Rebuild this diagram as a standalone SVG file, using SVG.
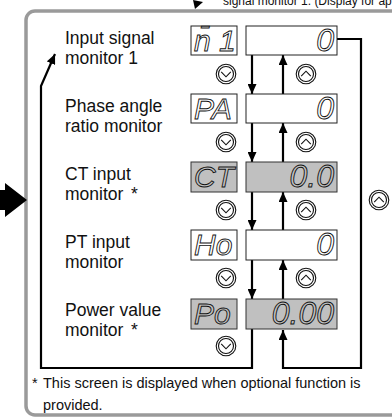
<svg xmlns="http://www.w3.org/2000/svg" width="392" height="417" viewBox="0 0 392 417">
<defs>
<style>
.lbl{font-family:"Liberation Sans",Arial,sans-serif;font-size:17.5px;fill:#111}
.note{font-family:"Liberation Sans",Arial,sans-serif;font-size:14.5px;fill:#111}
.seg{font-family:"Liberation Sans",Arial,sans-serif;font-style:italic;font-size:30px;fill:none;stroke:#111;stroke-width:0.9}
.val{font-family:"Liberation Sans",Arial,sans-serif;font-style:italic;font-size:32px;fill:none;stroke:#111;stroke-width:0.9;text-anchor:end}
.box{fill:#fff;stroke:#222;stroke-width:1}
.gbox{fill:#c0c0c0;stroke:#333;stroke-width:1}
.ln{fill:none;stroke:#000;stroke-width:2.2}
</style>
<marker id="ah" markerUnits="userSpaceOnUse" markerWidth="10" markerHeight="9" refX="10" refY="4.5" orient="auto">
<path d="M0,0 L10,4.5 L0,9 z" fill="#000"/>
</marker>
<g id="dn" fill="#fff" stroke="#111" stroke-width="1.1"><circle r="9.8"/><circle r="7.5"/><polyline fill="none" points="-4.8,-2.2 0,2.8 4.8,-2.2"/></g>
<g id="up" fill="#fff" stroke="#111" stroke-width="1.1"><circle r="9.8"/><circle r="7.5"/><polyline fill="none" points="-4.8,2.2 0,-2.8 4.8,2.2"/></g>
</defs>

<text x="223" y="5" font-family="Liberation Sans,Arial,sans-serif" font-size="12" fill="#111">signal monitor 1. (Display for ap</text>
<polygon points="193,0 203,2 195,9" fill="#000"/>

<rect x="26" y="11" width="400" height="404" rx="9" fill="none" stroke="#9a9a9a" stroke-width="3.5"/>

<polygon points="0,190 5,190 5,183 27,200 5,217 5,210 0,210" fill="#000"/>

<g id="connectors">
<path class="ln" d="M252,329 V368 H41 V86 L55,54" marker-end="url(#ah)"/>
<path class="ln" d="M337,39 H361 V368 H283 V330" marker-end="url(#ah)"/>
<path class="ln" d="M252,55 V94" marker-end="url(#ah)"/>
<path class="ln" d="M283,94 V55" marker-end="url(#ah)"/>
<path class="ln" d="M252,123 V162" marker-end="url(#ah)"/>
<path class="ln" d="M283,162 V123" marker-end="url(#ah)"/>
<path class="ln" d="M252,192 V230" marker-end="url(#ah)"/>
<path class="ln" d="M283,230 V192" marker-end="url(#ah)"/>
<path class="ln" d="M252,260 V299" marker-end="url(#ah)"/>
<path class="ln" d="M283,299 V260" marker-end="url(#ah)"/>
</g>

<g id="row1">
<text class="lbl" x="65" y="44">Input signal</text>
<text class="lbl" x="65" y="64">monitor 1</text>
<rect class="box" x="191" y="26" width="46" height="29"/>
<rect class="box" x="246" y="26" width="91" height="29"/>
<text class="seg" x="194" y="51">n̄ 1</text>
<text class="val" x="334" y="51">0</text>
</g>
<g id="row2">
<text class="lbl" x="65" y="112">Phase angle</text>
<text class="lbl" x="65" y="132">ratio monitor</text>
<rect class="box" x="191" y="94" width="46" height="29"/>
<rect class="box" x="246" y="94" width="91" height="29"/>
<text class="seg" x="194" y="119">PA</text>
<text class="val" x="334" y="119">0</text>
</g>
<g id="row3">
<text class="lbl" x="65" y="180">CT input</text>
<text class="lbl" x="65" y="200">monitor</text>
<text class="lbl" x="131" y="200">*</text>
<rect class="gbox" x="191" y="162" width="46" height="30"/>
<rect class="gbox" x="246" y="162" width="91" height="30"/>
<text class="seg" x="194" y="187">CT</text>
<text class="val" x="334" y="187">0.0</text>
</g>
<g id="row4">
<text class="lbl" x="65" y="248">PT input</text>
<text class="lbl" x="65" y="268">monitor</text>
<rect class="box" x="191" y="230" width="46" height="30"/>
<rect class="box" x="246" y="230" width="91" height="30"/>
<text class="seg" x="194" y="255">Ho</text>
<text class="val" x="334" y="255">0</text>
</g>
<g id="row5">
<text class="lbl" x="65" y="316">Power value</text>
<text class="lbl" x="65" y="336">monitor</text>
<text class="lbl" x="131" y="336">*</text>
<rect class="gbox" x="191" y="299" width="46" height="30"/>
<rect class="gbox" x="246" y="299" width="91" height="30"/>
<text class="seg" x="194" y="324">Po</text>
<text class="val" x="334" y="324">0.00</text>
</g>

<g id="buttons">
<use href="#dn" x="226" y="74"/><use href="#up" x="306" y="74"/>
<use href="#dn" x="226" y="142"/><use href="#up" x="306" y="142"/>
<use href="#dn" x="226" y="210"/><use href="#up" x="306" y="210"/>
<use href="#dn" x="226" y="278"/><use href="#up" x="306" y="278"/>
<use href="#dn" x="226" y="346"/>
<use href="#up" x="379" y="200"/>
</g>

<g id="footnote">
<text class="note" x="32" y="388">*</text>
<text class="note" x="43" y="388">This screen is displayed when optional function is</text>
<text class="note" x="43" y="410">provided.</text>
</g>
</svg>
